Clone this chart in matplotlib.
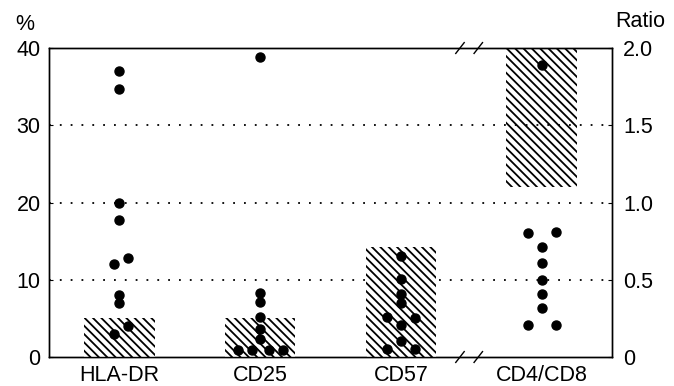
import numpy as np
import matplotlib
matplotlib.use("Agg")
import matplotlib.pyplot as plt

plt.rcParams['font.family'] = ['Liberation Sans', 'DejaVu Sans']
plt.rcParams['hatch.linewidth'] = 1.3

# categories and data
categories = ['HLA-DR', 'CD25', 'CD57', 'CD4/CD8']

# bar heights (%), CD4/CD8 in ratio units
bar_pct = [5, 5, 14.3]
ratio_bar = (1.1, 2.0)   # bottom, top

hla_dr = [37, 34.7, 20, 17.8, 12.8, 12, 8, 7, 4, 3]
cd25 = [38.8, 8.3, 7.1, 5.2, 3.6, 2.3, 0.9, 0.9, 0.9, 0.9]
cd57 = [13.1, 10.1, 8.2, 7.0, 5.2, 5.1, 4.1, 2.1, 1.0, 1.0]
cd4_cd8 = [1.89, 0.80, 0.81, 0.71, 0.61, 0.50, 0.41, 0.32, 0.21, 0.21]

# horizontal spread of the dots around each category
hla_dx = [0, 0, 0, 0, 0.06, -0.04, 0, 0, 0.06, -0.04]
cd25_dx = [0, 0, 0, 0, 0, 0, -0.16, -0.06, 0.06, 0.16]
cd57_dx = [0, 0, 0, 0, -0.1, 0.1, 0, 0, -0.1, 0.1]
cd48_dx = [0, -0.1, 0.1, 0, 0, 0, 0, 0, -0.1, 0.1]

fig = plt.figure(figsize=(6.74, 3.86), dpi=100)
ax = fig.add_axes([0.0727, 0.0751, 0.8353, 0.8005])
ax2 = ax.twinx()

x = np.arange(1, 5)
bw = 0.5
hatch = '\\\\\\\\'

# hatched bars
for i, h in enumerate(bar_pct):
    ax.bar(x[i], h, width=bw, color='white', edgecolor='black', hatch=hatch,
           linewidth=0, zorder=2)
ax2.bar(x[3], ratio_bar[1] - ratio_bar[0], bottom=ratio_bar[0], width=bw,
        color='white', edgecolor='black', hatch=hatch, linewidth=0, zorder=2)

# dotted reference lines
for yv in [10, 20, 30]:
    ax.axhline(yv, color='black', linestyle=(0, (1, 5)), linewidth=1.3, zorder=1)

# dots
ms = 6.5
ax.plot(x[0] + np.array(hla_dx), hla_dr, 'o', color='black', ms=ms, zorder=3, clip_on=False)
ax.plot(x[1] + np.array(cd25_dx), cd25, 'o', color='black', ms=ms, zorder=3, clip_on=False)
ax.plot(x[2] + np.array(cd57_dx), cd57, 'o', color='black', ms=ms, zorder=3, clip_on=False)
ax2.plot(x[3] + np.array(cd48_dx), cd4_cd8, 'o', color='black', ms=ms, zorder=3, clip_on=False)

ax.set_xlim(0.5, 4.5)
ax.set_ylim(0, 40)
ax2.set_ylim(0, 2.0)
ax.set_zorder(ax2.get_zorder() + 1)
ax.patch.set_visible(False)

fs = 15.5
ax.set_xticks(x)
ax.set_xticklabels(categories, fontsize=fs)
ax.set_yticks([0, 10, 20, 30, 40])
ax.set_yticklabels(['0', '10', '20', '30', '40'], fontsize=fs)
ax2.set_yticks([0, 0.5, 1.0, 1.5, 2.0])
ax2.set_yticklabels(['0', '0.5', '1.0', '1.5', '2.0'], fontsize=fs)

ax.tick_params(axis='x', length=0, pad=6)
ax.tick_params(axis='y', direction='in', length=3, pad=6)
ax2.tick_params(axis='y', direction='in', length=3, pad=8)

for a in (ax, ax2):
    for s in a.spines.values():
        s.set_linewidth(1.0)

# axis unit labels
ax.text(-0.043, 1.075, '%', transform=ax.transAxes, fontsize=fs, ha='center', va='center')
ax2.text(1.051, 1.085, 'Ratio', transform=ax.transAxes, fontsize=fs, ha='center', va='center')

# axis break marks between CD57 and CD4/CD8
for xb in [3.42, 3.55]:
    for yb in [0, 40]:
        ax.plot([xb - 0.03, xb + 0.03], [yb - 0.7, yb + 0.7], color='black',
                linewidth=1.0, clip_on=False, zorder=4)

fig.savefig('out.png', dpi=100)
